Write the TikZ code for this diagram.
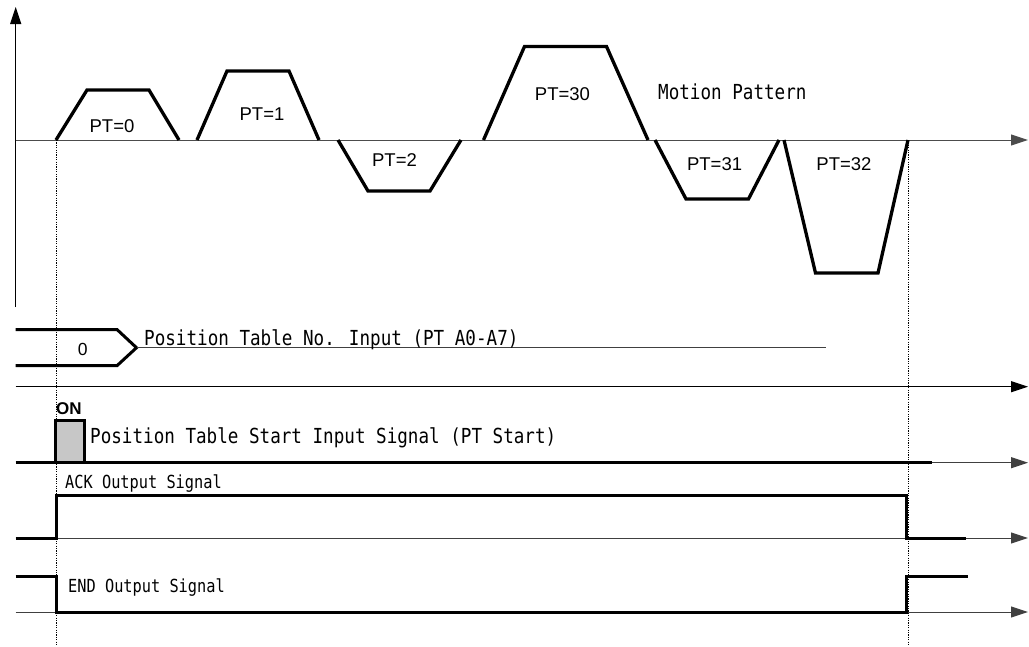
\documentclass[tikz,border=0pt]{standalone}
\usepackage{fontspec}
\setmainfont{Liberation Sans}
\newfontfamily\gulim[FakeStretch=0.85]{DejaVu Sans Mono}
\usetikzlibrary{arrows.meta}
\tikzset{
  profile/.style={line width=3.3pt, line join=miter},
  signal/.style={line width=3pt},
  axisline/.style={draw=black, line width=1pt, -{Triangle[length=17pt,width=11pt]}},
  thinline/.style={draw=black!75, line width=1pt},
  guide/.style={line width=0.9pt, dash pattern=on 1.2pt off 1.2pt},
  ptlabel/.style={font=\fontsize{18.5}{18.5}\selectfont, inner sep=0pt, anchor=base},
  sigtext/.style={font=\gulim\fontsize{20.7}{21}\selectfont, inner sep=0pt, anchor=base west},
  smalltext/.style={font=\gulim\fontsize{18}{18}\selectfont, inner sep=0pt, anchor=base west}
}

\begin{document}
\begin{tikzpicture}[x=1pt, y=-1pt]
\useasboundingbox (0,0) rectangle (1029,646);
\draw[axisline] (15.7,307) -- (15.7,7);
\draw[axisline, draw=black!70] (15.7,140) -- (1028,140);
\draw[axisline] (15.7,386.7) -- (1028,386.7);
\draw[axisline, draw=black!75] (15.7,462.7) -- (1028,462.7);
\draw[axisline, draw=black!75] (15.7,538) -- (1028,538);
\draw[axisline, draw=black!75] (15.7,612) -- (1028,612);
\draw[profile] (56,140) -- (87,90) -- (149,90) -- (179,140);
\draw[profile] (197,140) -- (227,71) -- (289,71) -- (319,140);
\draw[profile] (338,140) -- (368,191) -- (430,191) -- (461,140);
\draw[profile] (483.5,140) -- (524.5,46.5) -- (606.5,46.5) -- (648,140);
\draw[profile] (655,140) -- (686,199) -- (748.5,199) -- (779,140);
\draw[profile] (784,140) -- (815.5,273) -- (878,273) -- (908,140);
\node[ptlabel] (pt0) at (112,132) {PT=0};
\node[ptlabel] (pt1) at (262,120.5) {PT=1};
\node[ptlabel] (pt2) at (394.5,166.5) {PT=2};
\node[ptlabel] (pt30) at (562.5,100) {PT=30};
\node[ptlabel] (pt31) at (714.6,170) {PT=31};
\node[ptlabel] (pt32) at (844,170) {PT=32};
\node[sigtext] (motion) at (658,99) {Motion Pattern};
\draw[signal] (15.7,329.5) -- (117,329.5) -- (136.5,347.7) -- (117,365.7) -- (15.7,365.7);
\draw[thinline] (136.5,347.7) -- (826,347.7);
\node[ptlabel, font=\fontsize{17.5}{17.5}\selectfont] (busval) at (82.8,355.5) {0};
\node[sigtext] (ptsel) at (144,345) {Position Table No. Input (PT A0-A7)};
\node[inner sep=0pt, anchor=base west, font=\bfseries\fontsize{17}{17}\selectfont] (on) at (56,414.5) {ON};
\draw[signal, fill=black!22] (55,462.7) -- (55,420) -- (84.5,420) -- (84.5,462.7);
\draw[signal] (15.7,462.7) -- (931.7,462.7);
\node[sigtext] (ptstart) at (90,443.3) {Position Table Start Input Signal (PT Start)};
\draw[signal] (15.7,538) -- (56,538) -- (56,495) -- (906.5,495) -- (906.5,538) -- (966,538);
\node[smalltext] (ack) at (65,488.3) {ACK Output Signal};
\draw[signal] (15.7,576.7) -- (56,576.7) -- (56,612) -- (906.5,612) -- (906.5,576.7) -- (968,576.7);
\node[smalltext] (endsig) at (68,592.6) {END Output Signal};
\draw[guide] (56.5,140) -- (56.5,646);
\draw[guide] (908.3,140) -- (908.3,646);
\end{tikzpicture}
\end{document}
